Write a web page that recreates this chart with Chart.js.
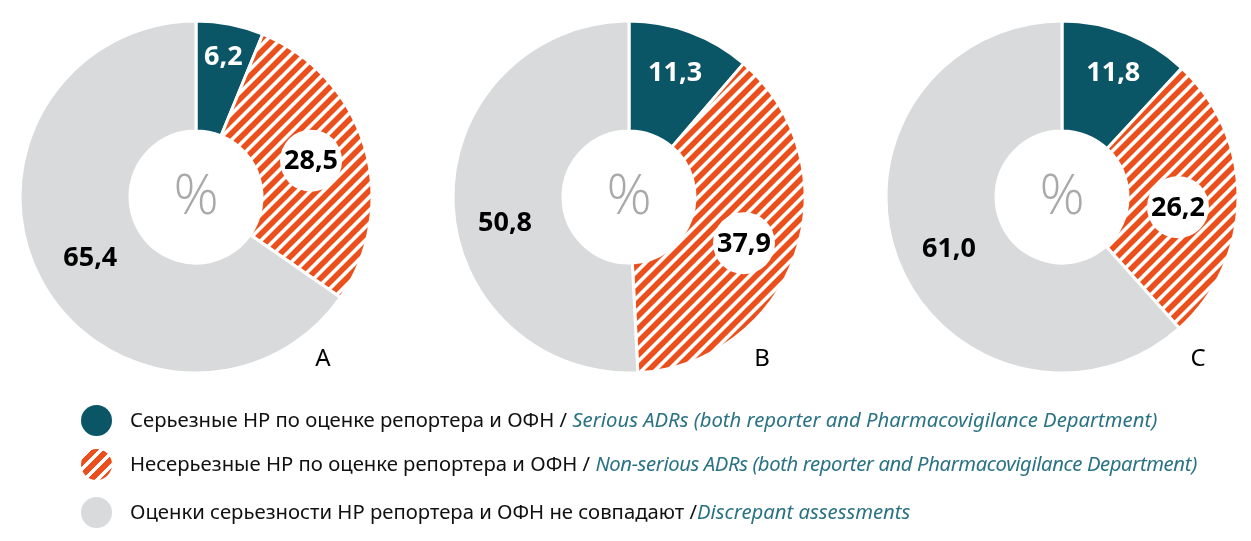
<!DOCTYPE html>
<html><head><meta charset="utf-8">
<script src="https://cdn.jsdelivr.net/npm/chart.js@4.4.0/dist/chart.umd.min.js"></script>
<style>
html,body{margin:0;padding:0;background:#fff;width:1251px;height:541px;overflow:hidden;}
.c{position:absolute;top:0;}
#legend{position:absolute;left:0;top:0;width:1251px;height:541px;font-family:"Noto Sans",sans-serif;font-size:20.3px;color:#111;}
.row{position:absolute;left:81px;height:30px;line-height:30px;white-space:nowrap;}
.mk{position:absolute;left:0;top:1px;width:31px;height:31px;border-radius:50%;}
.tx{position:absolute;left:49px;top:0;}
.en{font-style:italic;color:#2b7384;}
</style></head>
<body>
<canvas id="cA" class="c" width="390" height="395" style="left:1px"></canvas>
<canvas id="cB" class="c" width="390" height="395" style="left:434px"></canvas>
<canvas id="cC" class="c" width="390" height="395" style="left:867px"></canvas>
<div id="legend"></div>
<script>
const categories = ["Серьезные НР по оценке репортера и ОФН", "Несерьезные НР по оценке репортера и ОФН", "Оценки серьезности НР репортера и ОФН не совпадают"];
const categoriesEn = ["Serious ADRs (both reporter and Pharmacovigilance Department)", "Non-serious ADRs (both reporter and Pharmacovigilance Department)", "Discrepant assessments"];
const panels = ["A", "B", "C"];
const valuesA = [6.2, 28.5, 65.4];
const valuesB = [11.3, 37.9, 50.8];
const valuesC = [11.8, 26.2, 61.0];
const fmt = v => v.toFixed(1).replace('.', ',');

const TEAL = '#0a5667', ORANGE = '#ea4f1c', GRAY = '#d9dadb';
function hatch(){
  const s = 13, p = document.createElement('canvas');
  p.width = s; p.height = s;
  const g = p.getContext('2d');
  g.fillStyle = '#fff'; g.fillRect(0,0,s,s);
  g.strokeStyle = ORANGE; g.lineWidth = 5.6;
  g.beginPath();
  g.moveTo(-s, s); g.lineTo(s, -s);
  g.moveTo(0, 2*s); g.lineTo(2*s, 0);
  g.moveTo(-1, s+1); g.lineTo(s+1, -1);
  g.stroke();
  return g.createPattern(p, 'repeat');
}
const pat = hatch();

const labelPlugin = {
  id: 'lbl',
  afterDraw(chart){
    const ctx = chart.ctx;
    const o = chart.options.plugins.lbl;
    const meta = chart.getDatasetMeta(0);
    const cx = meta.data[0].x, cy = meta.data[0].y;
    ctx.save();
    ctx.fillStyle = '#a9a9a9';
    ctx.font = '300 56px "Open Sans", sans-serif';
    ctx.textAlign = 'center'; ctx.textBaseline = 'middle';
    ctx.fillText('%', cx, cy + 1);
    const vals = chart.data.datasets[0].data;
    meta.data.forEach((a, i) => {
      const mid = (a.startAngle + a.endAngle) / 2;
      const r = (a.innerRadius + a.outerRadius) / 2;
      const x = cx + Math.cos(mid) * r + o.shift[i][0];
      const y = cy + Math.sin(mid) * r + o.shift[i][1];
      if (i === 1) {
        ctx.fillStyle = '#fff';
        ctx.beginPath(); ctx.arc(x, y, 31, 0, Math.PI*2); ctx.fill();
      }
      ctx.fillStyle = i === 0 ? '#fff' : '#000';
      ctx.font = 'bold 27px "Noto Sans", sans-serif';
      ctx.fillText(fmt(vals[i]), x, y + 1);
    });
    ctx.fillStyle = '#000';
    ctx.font = '24px "Noto Sans", sans-serif';
    ctx.fillText(o.letter, cx + o.letterDx, cy + 162);
    ctx.restore();
  }
};

function make(id, data, letter, letterDx, shift){
  new Chart(document.getElementById(id), {
    type: 'doughnut',
    data: { labels: categories, datasets: [{ data: data, backgroundColor: [TEAL, pat, GRAY], borderColor: '#fff', borderWidth: 3, hoverOffset: 0 }] },
    options: {
      responsive: false, animation: false, cutout: '37.5%',
      layout: { padding: { left: 17.5, right: 17.5, top: 19.5, bottom: 20.5 } },
      plugins: { legend: { display: false }, tooltip: { enabled: false }, lbl: { letter: letter, letterDx: letterDx, shift: shift } }
    },
    plugins: [labelPlugin]
  });
}
make('cA', valuesA, panels[0], 127, [[4, -22], [-1, -2], [1.5, 4.5]]);
make('cB', valuesB, panels[1], 133, [[4, -11.5], [0.5, 7], [-3, 22]]);
make('cC', valuesC, panels[2], 136, [[7, -12], [-5, 9], [0, 8]]);

// legend
const lg = document.getElementById('legend');
const tops = [404, 448, 496];
const enSpacing = ['0px', '-0.4px', '0px'];
const fills = [TEAL, 'repeating-linear-gradient(-45deg, #fff 0 3.5px, ' + ORANGE + ' 3.5px 9px)', GRAY];
categories.forEach((c, i) => {
  const row = document.createElement('div');
  row.className = 'row'; row.style.top = tops[i] + 'px';
  const mk = document.createElement('div'); mk.className = 'mk'; mk.style.background = fills[i];
  const tx = document.createElement('div'); tx.className = 'tx';
  tx.innerHTML = c + (i === 2 ? ' /' : ' / ') + '<span class="en" style="letter-spacing:' + enSpacing[i] + '">' + categoriesEn[i] + '</span>';
  row.appendChild(mk); row.appendChild(tx); lg.appendChild(row);
});
</script>
</body></html>
